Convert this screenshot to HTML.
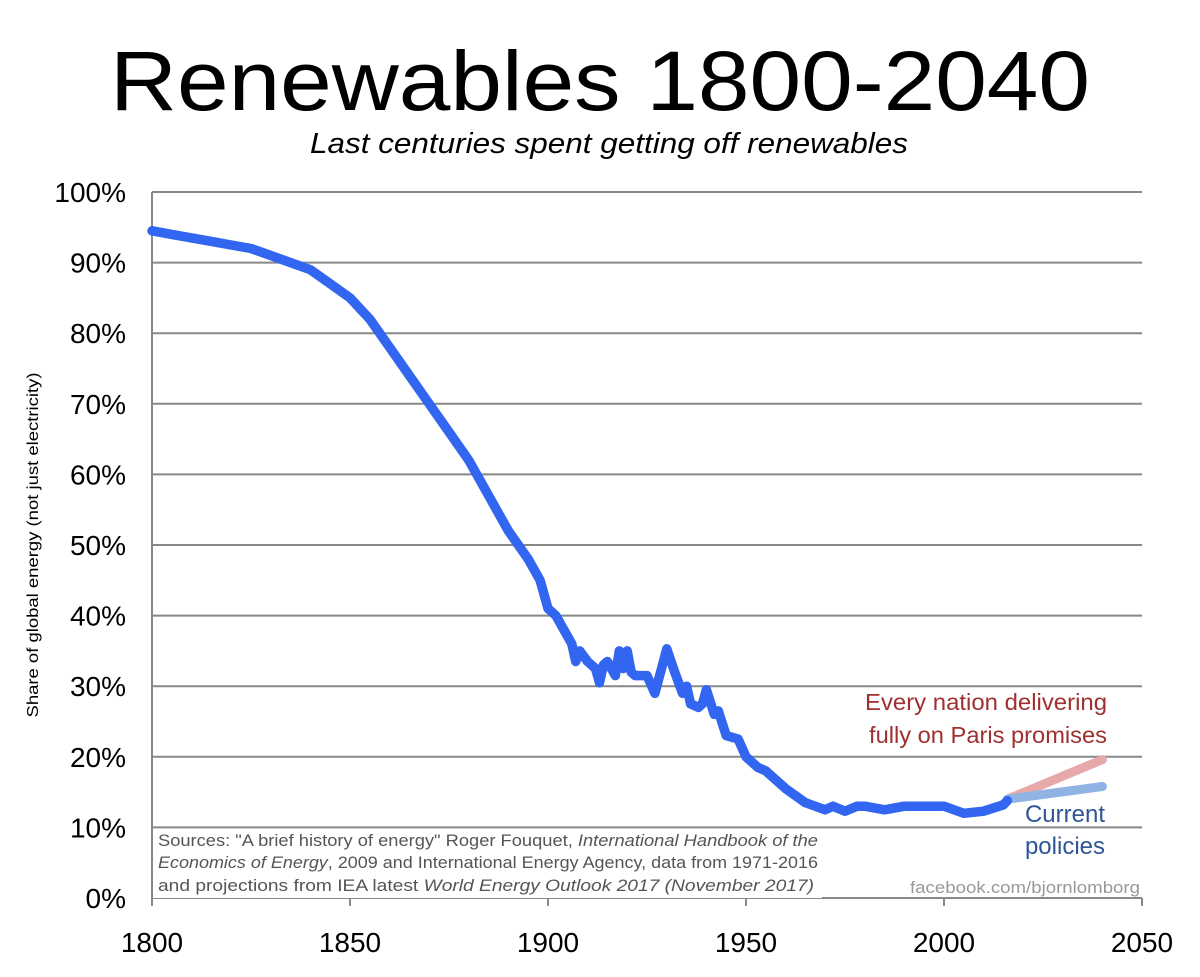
<!DOCTYPE html>
<html><head><meta charset="utf-8"><style>
body{margin:0;background:#fff;width:1200px;height:977px;overflow:hidden}
svg{display:block}
text{font-family:"Liberation Sans",sans-serif}
</style></head><body>
<svg id="chart" width="1200" height="977" xmlns="http://www.w3.org/2000/svg">
<text x="600" y="110" text-anchor="middle" font-size="84" textLength="980" lengthAdjust="spacingAndGlyphs" fill="#000">Renewables 1800-2040</text>
<text x="609" y="153" text-anchor="middle" font-size="29" font-style="italic" textLength="598" lengthAdjust="spacingAndGlyphs" fill="#000">Last centuries spent getting off renewables</text>
<text transform="translate(38,545) rotate(-90)" text-anchor="middle" font-size="16" textLength="345" lengthAdjust="spacingAndGlyphs" fill="#000">Share of global energy (not just electricity)</text>
<g id="grid"></g>
<g id="yticks"></g>
<g id="xticks"></g>
<g id="series"></g>
<g>
<rect x="153" y="829" width="669" height="69" fill="#fff"/>
<text x="158" y="846" font-size="16.5" fill="#555" textLength="660" lengthAdjust="spacingAndGlyphs">Sources: "A brief history of energy" Roger Fouquet, <tspan font-style="italic">International Handbook of the</tspan></text>
<text x="158" y="868" font-size="16.5" fill="#555" textLength="660" lengthAdjust="spacingAndGlyphs"><tspan font-style="italic">Economics of Energy</tspan>, 2009 and International Energy Agency, data from 1971-2016</text>
<text x="158" y="891" font-size="16.5" fill="#555" textLength="656" lengthAdjust="spacingAndGlyphs">and projections from IEA latest <tspan font-style="italic">World Energy Outlook 2017 (November 2017)</tspan></text>
</g>
<text x="1140" y="893" text-anchor="end" font-size="17" fill="#999" textLength="230" lengthAdjust="spacingAndGlyphs">facebook.com/bjornlomborg</text>
<g fill="#a03030" font-size="23">
<text x="1107" y="710" text-anchor="end" textLength="242" lengthAdjust="spacingAndGlyphs">Every nation delivering</text>
<text x="1107" y="743" text-anchor="end" textLength="238" lengthAdjust="spacingAndGlyphs">fully on Paris promises</text>
</g>
<g fill="#2f5597" font-size="24">
<text x="1105" y="822" text-anchor="end">Current</text>
<text x="1105" y="854" text-anchor="end">policies</text>
</g>
</svg>
<script>
const years=[1800,1805,1810,1815,1820,1825,1830,1835,1840,1845,1850,1855,1860,1865,1870,1875,1880,1885,1890,1895,1898,1900,1902,1904,1906,1907,1908,1910,1912,1913,1914,1915,1917,1918,1919,1920,1921,1922,1925,1927,1930,1932,1934,1935,1936,1938,1939,1940,1942,1943,1945,1948,1950,1953,1955,1960,1965,1970,1972,1975,1978,1980,1985,1990,1995,2000,2005,2010,2015,2016];
const share=[94.5,94,93.5,93,92.5,92,91,90,89,87,85,82,78,74,70,66,62,57,52,48,45,41,40,38,36,33.5,35,33.5,32.5,30.5,33,33.5,31.5,35,32.5,35,32,31.5,31.5,29,35.3,32,29,30,27.5,27,27.5,29.5,26,26.5,23,22.5,20,18.5,18,15.5,13.5,12.5,13,12.3,13,13,12.5,13,13,13,12,12.3,13.2,13.8];
const projYears=[2016,2040];
const paris=[14,19.6];
const current=[14,15.8];
const yTicks=[0,10,20,30,40,50,60,70,80,90,100];
const xTicks=[1800,1850,1900,1950,2000,2050];
const NS="http://www.w3.org/2000/svg";
const X=y=>152+(y-1800)*3.96;
const Y=v=>898-v*7.06;
function mk(tag,attrs,parent){const e=document.createElementNS(NS,tag);for(const k in attrs)e.setAttribute(k,attrs[k]);parent.appendChild(e);return e;}
const grid=document.getElementById('grid'),yt=document.getElementById('yticks'),xt=document.getElementById('xticks'),ser=document.getElementById('series');
yTicks.forEach(v=>{
 if(v>0){const l=mk('line',{x1:X(1800),x2:X(2050),y1:Y(v),y2:Y(v),stroke:'#888','stroke-width':2},grid);
 
 }
 const t=mk('text',{x:126,y:Y(v)+10,'text-anchor':'end','font-size':28,fill:'#000'},yt);t.textContent=v+'%';
 
 
});
const ax=mk('line',{x1:X(1800),x2:X(1800),y1:Y(100),y2:Y(0),stroke:'#888','stroke-width':2},grid);


const bx=mk('line',{x1:X(1800),x2:X(2050),y1:Y(0),y2:Y(0),stroke:'#888','stroke-width':2},grid);


xTicks.forEach(y=>{
 const tk=mk('line',{x1:X(y),x2:X(y),y1:Y(0),y2:Y(0)+8,stroke:'#888','stroke-width':2},grid);
 
 
 const t=mk('text',{x:X(y),y:952,'text-anchor':'middle','font-size':28,fill:'#000'},xt);t.textContent=y;
 
 
});
function pts(xs,vs){return xs.map((x,i)=>X(x).toFixed(1)+','+Y(vs[i]).toFixed(1)).join(' ');}
const pp=mk('polyline',{points:pts(projYears,paris),fill:'none',stroke:'#e6a8a8','stroke-width':9,'stroke-linecap':'round'},ser);


const cp=mk('polyline',{points:pts(projYears,current),fill:'none',stroke:'#8fb4e3','stroke-width':9,'stroke-linecap':'round'},ser);


const hl=mk('polyline',{points:pts(years,share),fill:'none',stroke:'#3366f0','stroke-width':9.5,'stroke-linejoin':'round','stroke-linecap':'round'},ser);


</script>
</body></html>
